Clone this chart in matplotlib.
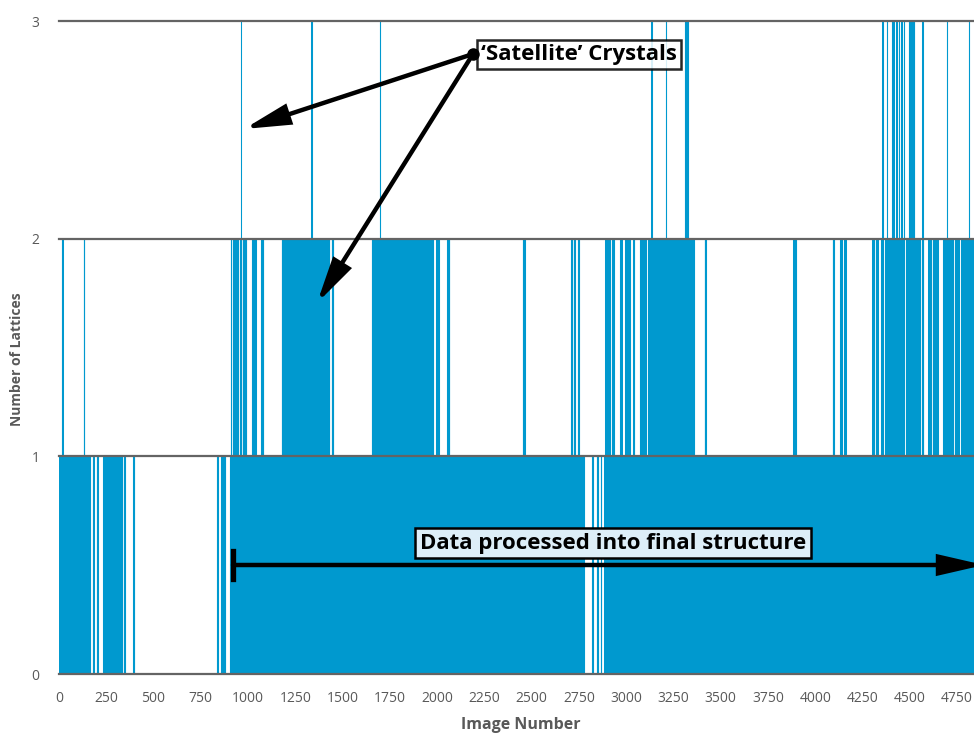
import numpy as np
import matplotlib
matplotlib.use("Agg")
import matplotlib.pyplot as plt
from matplotlib.lines import Line2D
from matplotlib.transforms import IdentityTransform

plt.rcParams["font.family"] = ["Open Sans", "DejaVu Sans"]

# Image ranges (first, last) with at least one, at least two and three lattices
n_images = 4839
at_least_1 = [(1, 154), (160, 165), (178, 184), (199, 206), (234, 335), (344, 349),
              (392, 397), (836, 841), (857, 879), (904, 2776), (2819, 2824),
              (2844, 2851), (2865, 2869), (2884, 4839)]
at_least_2 = [(16, 19), (130, 134), (907, 910), (918, 948), (957, 965), (971, 983),
              (988, 991), (1021, 1041), (1069, 1080), (1177, 1429), (1442, 1450),
              (1654, 1661), (1667, 1675), (1677, 1979), (1995, 2008), (2053, 2064),
              (2453, 2463), (2708, 2715), (2723, 2729), (2744, 2750), (2890, 2896),
              (2902, 2912), (2923, 2935), (2968, 2975), (2994, 3020), (3037, 3042),
              (3073, 3087), (3095, 3104), (3116, 3358), (3414, 3421), (3884, 3897),
              (4091, 4098), (4131, 4139), (4152, 4160), (4302, 4311), (4321, 4329),
              (4348, 4359), (4370, 4469), (4480, 4488), (4493, 4553), (4563, 4571),
              (4598, 4611), (4620, 4647), (4676, 4684), (4691, 4729), (4739, 4747),
              (4756, 4760), (4772, 4839)]
exactly_3 = [(963, 964), (1335, 1337), (1696, 1698), (3133, 3135), (3209, 3211),
             (3311, 3313), (3318, 3319), (3327, 3329), (4355, 4357), (4379, 4381),
             (4404, 4406), (4412, 4414), (4429, 4431), (4443, 4445), (4455, 4457),
             (4467, 4469), (4495, 4523), (4566, 4568), (4696, 4698), (4811, 4813)]

x_ticks = list(range(0, 4751, 250))
y_ticks = [0, 1, 2, 3]

images = np.arange(1, n_images + 1)
lattices = np.zeros(n_images, dtype=int)
for ranges in (at_least_1, at_least_2, exactly_3):
    for first, last in ranges:
        lattices[first - 1:last] += 1

W, H = 974, 733
fig = plt.figure(figsize=(W / 100, H / 100), dpi=100)
ax = fig.add_axes([59 / W, (H - 674) / H, (W - 59) / W, (674 - 21) / H])

bar_color = "#0099CF"
mask = lattices > 0
ax.vlines(images[mask], 0, lattices[mask], colors=bar_color, linewidth=0.75, zorder=2)

ax.set_xlim(0, n_images)
ax.set_ylim(0, 3)
for y in y_ticks:
    ax.axhline(y, color="#646464", linewidth=1.6, zorder=3, clip_on=False)

for s in ax.spines.values():
    s.set_visible(False)
ax.set_xticks(x_ticks)
ax.set_yticks(y_ticks)
ax.tick_params(length=0, labelsize=10, labelcolor="#595959")
ax.tick_params(axis="x", pad=12)
ax.tick_params(axis="y", pad=14)

fig.text(17 / W, (H - 359) / H, "Number of Lattices", rotation=90, ha="center",
         va="center", fontsize=10, fontweight="bold", color="#595959")
fig.text(521 / W, (H - 725) / H, "Image Number", ha="center", va="center",
         fontsize=11.5, fontweight="bold", color="#595959")

px = IdentityTransform()


def fp(x, y):
    return (x, H - y)


head = "-|>,head_length=2.6,head_width=0.6"

# "Satellite" crystals callout
dot = fp(473, 54)
for tip in [(244, 129), (317, 303)]:
    ax.annotate("", xy=fp(*tip), xycoords="figure pixels", xytext=dot,
                textcoords="figure pixels", annotation_clip=False,
                arrowprops=dict(arrowstyle=head, color="black", lw=3.2,
                                joinstyle="miter", shrinkA=0, shrinkB=0),
                zorder=6)
fig.add_artist(Line2D([dot[0]], [dot[1]], marker="o", markersize=8, color="black",
                      transform=px, zorder=9))
fig.text(579 / W, (H - 54.5) / H, "\u2018Satellite\u2019 Crystals", ha="center",
         va="center", fontsize=16, fontweight="bold", color="black", zorder=8,
         bbox=dict(boxstyle="square,pad=0.2", facecolor="white", alpha=0.85,
                   edgecolor="black", linewidth=1.8))

# Processed-data range arrow
y_arrow = 565
ax.annotate("", xy=fp(984, y_arrow), xycoords="figure pixels",
            xytext=fp(233, y_arrow), textcoords="figure pixels", annotation_clip=False,
            arrowprops=dict(arrowstyle=head, color="black", lw=3.2,
                            joinstyle="miter", shrinkA=0, shrinkB=0), zorder=6)
fig.add_artist(Line2D([233, 233], [H - 551, H - 579], color="black", lw=3.8,
                      transform=px, zorder=6))
fig.text(613 / W, (H - 543) / H, "Data processed into final structure", ha="center",
         va="center", fontsize=16, fontweight="bold", color="black", zorder=8,
         bbox=dict(boxstyle="square,pad=0.2", facecolor="#DDEEF8",
                   edgecolor="black", linewidth=1.8))

fig.savefig("out.png", dpi=100)
